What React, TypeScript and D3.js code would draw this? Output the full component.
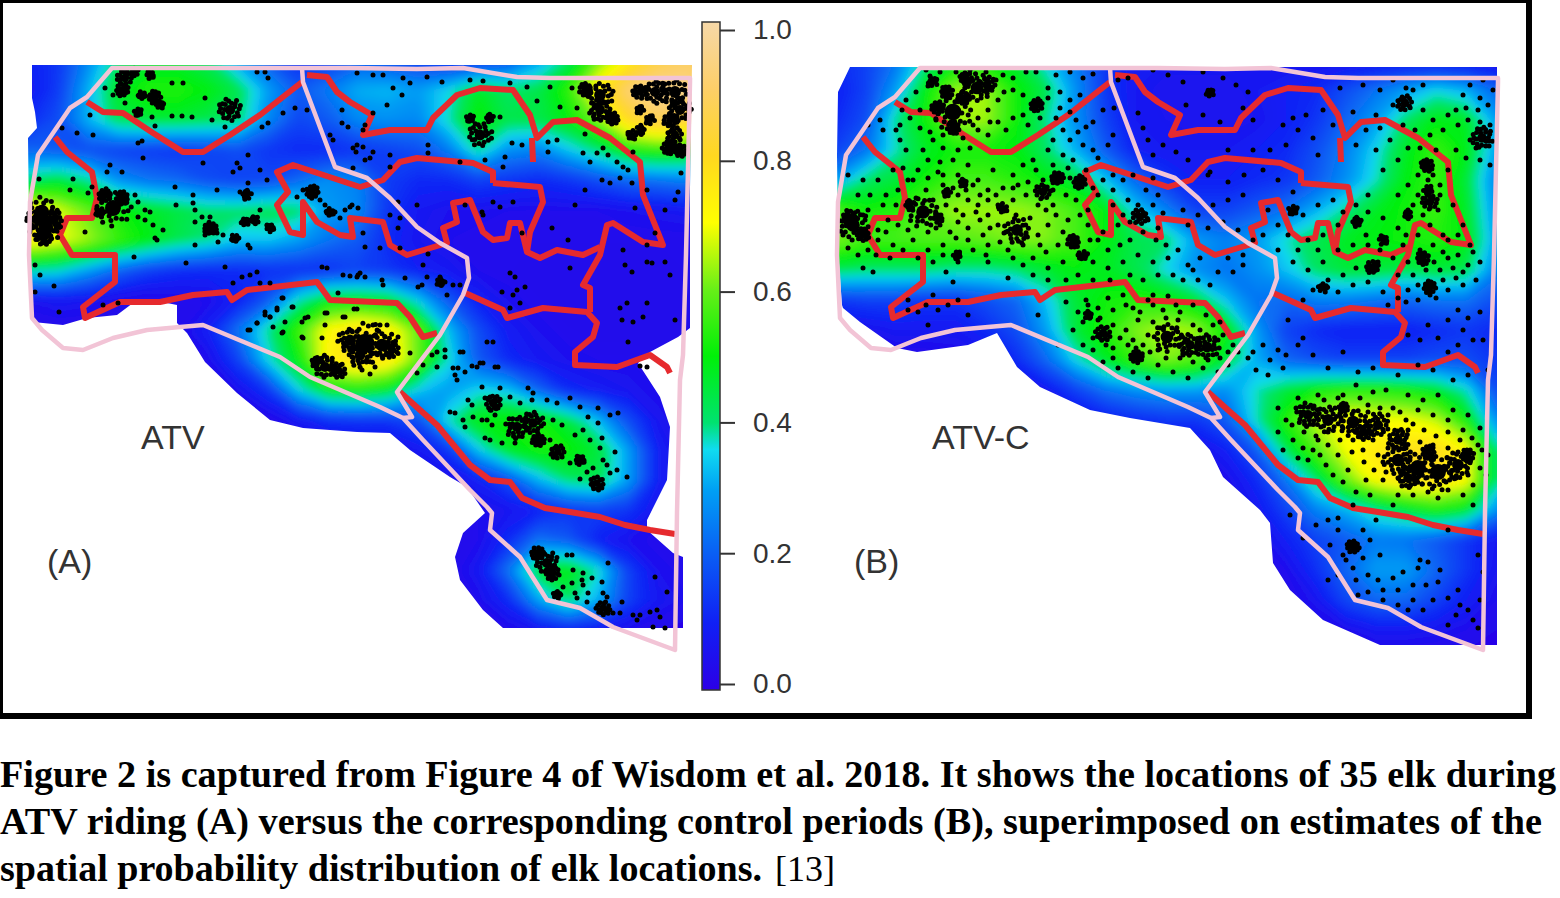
import { useEffect, useRef } from 'react'
import * as d3 from 'd3'

type Pt = [number, number]
type Clump = [number, number, number]

// Map units are the same for both panels: A and B show the same study area.
const gridX = d3.range(23).map((i) => 28 + i * 30)
const gridY = d3.range(21).map((j) => 60 + j * 30)

// Relative probability (percent) at each grid node, row by row.
const densityA = [
  [10,14,27,42,46,46,42,30,20,12,15,20,18,15,12,12,18,30,42,60,74,85,90],
  [8,15,32,48,54,54,50,44,30,20,25,32,33,30,36,48,42,44,55,75,92,98,95],
  [12,18,32,44,46,46,44,42,27,17,20,27,28,27,38,52,44,44,50,62,80,88,85],
  [22,20,18,16,15,14,16,18,14,12,12,14,16,18,25,40,28,26,34,42,52,54,52],
  [42,46,40,28,24,22,18,16,17,22,28,26,15,12,12,16,14,12,14,18,22,24,26],
  [75,68,60,52,48,45,42,42,44,42,30,27,14,8,6,6,5,5,5,5,6,7,8],
  [75,70,64,56,50,44,40,34,34,30,24,20,12,7,5,4,4,4,4,4,4,4,4],
  [40,38,30,22,16,13,12,12,13,13,13,16,14,10,8,5,4,3,3,3,3,3,4],
  [6,8,7,4,3,4,5,10,20,38,50,50,48,35,20,10,6,4,3,3,3,3,3],
  [3,3,3,3,2,4,10,24,40,56,72,78,74,60,34,18,9,6,4,3,3,3,3],
  [3,3,3,2,2,2,5,16,36,50,74,80,76,60,38,20,12,8,6,5,5,4,3],
  [2,2,2,2,2,2,2,6,14,35,50,52,48,35,30,36,34,22,12,9,7,5,3],
  [2,2,2,2,2,2,2,2,3,8,13,14,14,18,38,50,52,52,45,33,18,7,4],
  [2,2,2,2,2,2,2,2,2,2,2,3,4,8,14,34,48,52,52,46,30,10,4],
  [2,2,2,2,2,2,2,2,2,2,2,2,2,3,5,10,18,32,42,44,30,10,4],
  [2,2,2,2,2,2,2,2,2,2,2,2,2,2,3,5,7,10,14,16,14,7,3],
  [2,2,2,2,2,2,2,2,2,2,2,2,2,2,2,5,12,24,20,10,6,4,3],
  [2,2,2,2,2,2,2,2,2,2,2,2,2,2,3,8,24,46,50,38,16,6,4],
  [2,2,2,2,2,2,2,2,2,2,2,2,2,2,2,5,12,30,42,32,16,8,5],
  [2,2,2,2,2,2,2,2,2,2,2,2,2,2,2,2,4,7,10,8,5,3,2],
  [2,2,2,2,2,2,2,2,2,2,2,2,2,2,2,2,2,2,2,2,2,2,2],
]
const densityB = [
  [12,16,24,40,48,50,46,35,25,14,8,8,8,8,7,6,6,6,6,6,5,5,5],
  [10,16,30,50,64,64,52,44,28,14,8,6,6,6,8,10,12,18,24,30,36,32,22],
  [12,18,40,52,64,64,52,40,28,16,8,7,6,6,7,10,14,22,30,42,50,48,30],
  [16,24,38,48,52,52,50,42,32,20,10,8,8,8,10,12,18,26,36,48,56,50,30],
  [30,42,46,52,57,57,54,50,46,34,22,14,10,10,12,14,20,28,38,50,56,46,26],
  [58,52,54,60,64,64,64,62,57,50,35,26,16,16,20,24,32,40,48,52,56,48,28],
  [62,57,57,58,58,60,62,62,57,50,44,42,30,26,30,38,44,48,50,52,54,50,30],
  [44,42,42,42,40,40,42,46,50,48,44,36,28,24,28,34,42,46,46,44,46,44,26],
  [14,16,16,14,14,18,22,34,46,52,54,52,46,34,24,22,26,26,24,22,24,24,18],
  [5,6,8,8,8,12,18,30,46,54,62,66,64,52,30,16,12,10,10,10,12,14,12],
  [3,3,3,3,4,6,12,22,36,48,56,62,58,46,32,22,18,16,16,16,18,18,14],
  [2,2,2,2,2,2,4,8,16,24,28,30,30,28,38,46,52,54,54,52,48,38,18],
  [2,2,2,2,2,2,2,3,5,9,12,14,14,20,38,54,66,72,70,70,66,52,28],
  [2,2,2,2,2,2,2,2,2,3,4,4,5,10,20,44,58,70,76,78,80,72,42],
  [2,2,2,2,2,2,2,2,2,2,2,2,2,5,12,24,42,60,72,78,78,72,42],
  [2,2,2,2,2,2,2,2,2,2,2,2,2,3,8,16,26,32,40,46,52,48,28],
  [2,2,2,2,2,2,2,2,2,2,2,2,2,2,4,10,16,20,25,24,20,14,8],
  [2,2,2,2,2,2,2,2,2,2,2,2,2,2,2,5,13,22,30,30,22,14,7],
  [2,2,2,2,2,2,2,2,2,2,2,2,2,2,2,3,7,17,22,22,16,10,5],
  [2,2,2,2,2,2,2,2,2,2,2,2,2,2,2,2,3,5,8,8,7,5,3],
  [2,2,2,2,2,2,2,2,2,2,2,2,2,2,2,2,2,2,2,2,2,2,2],
]

// Where each probability surface has data.
const extentA: Pt[] = [[32,65],[692,65],[690,188],[690,328],[678,337],[650,352],[638,363],[660,397],[670,427],[667,480],[647,520],[647,530],[673,553],[683,557],[683,628],[503,628],[483,610],[460,580],[455,557],[463,533],[485,513],[467,487],[450,477],[410,450],[390,433],[357,432],[303,428],[270,420],[237,393],[205,362],[187,333],[177,323],[177,305],[167,303],[133,303],[117,315],[87,318],[63,325],[33,322],[30,305],[28,138],[37,128],[35,112],[32,98]]
const extentB: Pt[] = [[42,67],[689,67],[689,645],[572,645],[515,620],[482,590],[465,563],[462,523],[452,510],[415,477],[402,450],[382,428],[322,418],[282,410],[232,387],[209,367],[189,333],[160,345],[109,352],[89,348],[52,322],[35,308],[34,305],[30,250],[29,155],[30,92]]

// Study area boundaries, same in both panels.
const pinkOuter: Pt[] = [[120,68],[112,68],[87,97],[70,108],[53,133],[38,155],[30,202],[29,255],[32,318],[42,330],[63,348],[83,350],[113,338],[147,330],[180,327],[203,325],[280,357],[310,377],[380,407],[403,418],[423,440],[470,490],[487,507],[492,513],[490,530],[520,557],[547,600],[580,608],[613,627],[675,650],[677,513],[680,380],[683,355],[686,255],[690,82],[690,78],[550,78],[517,77],[463,68],[417,69],[350,68],[302,68],[120,68]]
const pinkInner: Pt[] = [[302,68],[303,82],[335,167],[367,178],[390,198],[417,227],[440,243],[467,258],[469,278],[463,295],[440,335],[397,392],[412,417],[403,418]]
const redLines: Pt[][] = [
  [[87,102],[103,112],[123,113],[153,133],[183,152],[203,152],[230,135],[260,115],[302,82]],
  [[55,137],[67,152],[92,172],[97,198],[92,218],[67,218],[60,235],[72,255],[115,255],[115,282],[83,307],[85,318],[120,302],[160,302],[193,295],[227,292],[232,300],[247,290],[317,282],[330,300],[397,303],[410,317],[423,337],[437,333]],
  [[463,292],[503,310],[507,318],[543,308],[587,312],[597,323],[593,337],[575,352],[575,365],[617,367],[650,355],[667,367],[670,373]],
  [[590,312],[590,288],[583,285],[600,255],[607,225],[613,223],[643,242],[663,245],[643,195],[640,162],[610,138],[577,120],[553,122],[537,138],[530,115],[513,90],[480,88],[457,95],[433,118],[427,130],[390,130],[363,135],[372,115],[350,102],[337,92],[327,77],[307,75]],
  [[532,138],[533,162]],
  [[493,183],[493,172],[473,163],[417,158],[400,162],[383,180],[360,187],[293,165],[277,172],[288,192],[277,205],[290,232],[303,235],[303,202],[317,222],[340,235],[353,237],[350,218],[383,222],[390,245],[407,255],[447,243],[443,228],[457,222],[453,203],[470,200],[483,232],[493,240],[507,238],[510,223],[520,223],[527,252],[540,258],[557,250],[583,255],[600,247]],
  [[493,183],[540,187],[543,202],[530,232],[527,252]],
  [[400,392],[420,410],[437,425],[470,465],[490,480],[510,482],[522,498],[545,508],[570,512],[600,517],[625,525],[650,530],[675,534]],
]

// Elk locations; clumps are places where so many fixes overlap that they read as one blob.
const fixesA: Pt[] = [[105,88],[183,83],[172,83],[205,98],[212,120],[172,116],[182,116],[192,117],[152,117],[125,103],[113,95],[155,126],[225,127],[262,127],[268,123],[283,113],[295,108],[307,110],[342,110],[268,78],[257,72],[265,72],[90,115],[62,128],[77,133],[93,135],[138,143],[142,141],[143,158],[110,165],[107,172],[122,172],[73,179],[39,179],[70,190],[88,193],[92,187],[175,187],[193,195],[217,190],[203,163],[248,155],[237,163],[233,172],[240,168],[260,170],[267,180],[248,183],[240,192],[135,195],[138,202],[145,210],[150,212],[138,217],[145,220],[153,225],[163,230],[157,240],[155,238],[85,232],[176,205],[193,203],[195,210],[195,222],[202,217],[210,217],[212,228],[205,235],[217,233],[223,235],[218,242],[195,245],[248,245],[250,248],[247,222],[253,218],[260,210],[258,222],[267,225],[272,228],[134,257],[186,263],[225,267],[322,267],[327,268],[242,277],[250,275],[257,272],[233,283],[260,283],[270,283],[343,275],[350,276],[358,275],[35,265],[40,275],[54,286],[35,292],[59,312],[103,305],[118,303],[265,312],[270,317],[277,310],[283,298],[293,307],[250,330],[257,323],[285,322],[283,332],[302,322],[308,317],[327,313],[345,317],[325,325],[303,338],[357,309],[338,293],[313,195],[320,200],[325,205],[335,212],[340,218],[345,210],[350,207],[303,190],[297,197],[353,148],[356,152],[330,135],[333,140],[342,123],[348,127],[353,168],[352,205],[358,208],[357,73],[373,75],[383,75],[403,78],[410,83],[427,77],[393,88],[402,95],[387,105],[442,82],[470,80],[483,81],[510,83],[527,87],[550,87],[537,101],[560,107],[572,88],[577,108],[373,113],[365,125],[363,130],[357,145],[363,147],[373,152],[370,158],[390,155],[365,160],[390,167],[428,145],[428,153],[500,117],[512,143],[522,145],[505,157],[503,167],[485,160],[460,162],[548,152],[557,140],[548,142],[583,153],[590,162],[585,134],[602,180],[610,183],[620,178],[597,153],[603,148],[608,155],[617,162],[623,167],[628,170],[632,183],[633,152],[647,190],[665,210],[635,208],[675,200],[678,192],[681,173],[585,190],[575,205],[552,228],[568,240],[522,233],[513,202],[500,207],[493,202],[483,215],[482,212],[465,205],[417,205],[398,202],[400,218],[398,228],[390,215],[363,233],[365,247],[380,248],[400,248],[428,254],[423,265],[360,273],[365,277],[357,277],[382,280],[383,285],[405,278],[418,287],[422,285],[427,277],[440,277],[445,282],[453,285],[460,285],[447,295],[510,273],[515,277],[525,287],[517,290],[513,295],[520,303],[510,308],[502,292],[570,268],[625,265],[632,272],[647,262],[652,263],[665,262],[670,275],[623,250],[647,245],[655,233],[675,320],[620,308],[627,303],[622,320],[633,322],[647,303],[643,317],[628,342],[493,342],[463,352],[483,363],[498,367],[477,367],[458,368],[647,367],[248,330],[257,323],[265,315],[270,317],[277,308],[282,298],[292,307],[273,327],[282,333],[302,337],[305,318],[325,313],[343,317],[354,309],[322,338],[410,353],[398,337],[387,325],[380,325],[373,325],[375,367],[370,374],[362,370],[423,365],[437,367],[437,352],[445,350],[445,357],[432,355],[417,373],[453,368],[457,380],[455,375],[465,372],[472,366],[480,363],[495,367],[460,352],[487,342],[450,412],[455,413],[468,400],[472,405],[482,387],[500,388],[485,398],[490,397],[495,402],[498,408],[490,410],[495,415],[487,420],[482,420],[463,420],[465,427],[473,417],[492,425],[485,438],[490,440],[502,443],[515,443],[510,397],[528,388],[533,393],[532,400],[520,403],[547,400],[557,403],[570,398],[580,407],[598,408],[610,415],[618,413],[588,417],[598,423],[553,420],[562,425],[575,435],[583,430],[590,440],[602,438],[600,448],[615,452],[603,460],[607,465],[617,470],[610,473],[627,477],[580,479],[587,472],[593,468],[570,463],[577,463],[550,440],[557,453],[567,555],[572,555],[608,563],[573,570],[583,573],[582,580],[572,583],[563,587],[592,578],[583,585],[575,593],[588,593],[577,598],[587,602],[602,582],[603,593],[607,597],[622,602],[655,577],[633,615],[640,615],[637,620],[650,612],[657,610],[660,617],[653,627],[667,592],[665,628],[620,613],[613,613],[640,366]]
const clumpsA: Clump[] = [[42,212,18],[46,228,18],[38,220,10],[52,220,8],[44,238,6],[113,208,22],[105,195,4],[122,198,4],[100,212,3],[125,78,6],[122,90,4],[155,97,4],[160,105,2],[138,112,2],[135,72,2],[150,75,2],[142,95,2],[230,110,9],[600,95,12],[600,110,8],[585,90,4],[612,118,4],[640,92,5],[655,92,9],[675,92,12],[680,110,9],[670,120,5],[675,135,6],[668,148,4],[680,150,4],[650,120,3],[640,130,3],[632,135,3],[480,135,10],[470,118,2],[490,118,2],[365,343,30],[350,340,10],[382,345,14],[360,355,10],[392,350,6],[325,367,9],[338,370,6],[316,362,3],[493,403,6],[517,427,9],[533,423,8],[538,440,4],[558,452,5],[580,460,3],[597,483,5],[547,563,9],[537,553,4],[553,573,5],[557,595,2],[603,608,5],[247,195,3],[312,192,4],[330,212,2],[245,222,2],[210,228,4],[255,220,2],[270,228,2],[235,238,2],[640,110,2],[440,282,2]]
const fixesB: Pt[] = [[118,70],[122,76],[108,92],[98,100],[112,110],[94,110],[102,118],[195,75],[205,78],[218,72],[228,72],[248,75],[262,72],[275,78],[285,74],[240,88],[252,92],[262,100],[272,95],[205,90],[215,95],[190,100],[180,110],[170,118],[190,122],[205,118],[215,115],[198,130],[180,135],[165,125],[252,108],[248,118],[262,112],[268,120],[278,127],[285,122],[295,110],[306,108],[330,113],[335,128],[305,135],[60,125],[75,130],[92,125],[72,120],[92,140],[88,130],[98,150],[115,150],[125,140],[135,148],[150,150],[145,160],[132,162],[120,160],[110,170],[105,180],[120,178],[130,172],[85,170],[95,168],[160,165],[150,175],[170,180],[185,170],[205,175],[215,165],[225,160],[240,150],[255,155],[265,160],[245,165],[260,168],[275,145],[262,140],[270,132],[255,130],[245,140],[285,150],[278,170],[290,158],[300,145],[228,170],[235,180],[210,185],[195,188],[180,190],[165,185],[150,195],[135,185],[125,200],[138,205],[148,210],[160,200],[170,205],[180,200],[190,205],[205,200],[218,195],[230,205],[245,205],[258,195],[268,200],[280,210],[290,195],[295,180],[305,175],[315,180],[325,175],[338,190],[350,195],[305,190],[320,200],[315,215],[345,205],[355,213],[40,175],[55,180],[70,180],[62,195],[78,195],[90,190],[50,195],[75,205],[88,205],[100,180],[60,210],[80,220],[90,225],[100,230],[120,232],[132,225],[150,222],[160,228],[172,220],[180,215],[190,225],[175,235],[160,240],[148,238],[135,245],[120,250],[105,240],[95,250],[85,245],[70,240],[60,250],[50,255],[40,248],[68,255],[82,258],[110,258],[125,262],[135,255],[150,262],[180,245],[200,250],[215,245],[230,235],[240,225],[248,215],[260,220],[272,215],[280,225],[290,240],[300,250],[312,245],[322,240],[335,232],[348,240],[358,245],[250,245],[238,252],[225,258],[215,265],[180,262],[240,268],[255,262],[270,255],[285,262],[300,268],[315,262],[330,255],[345,262],[360,258],[370,250],[380,265],[365,275],[350,275],[335,280],[322,275],[302,280],[285,280],[270,275],[258,280],[240,280],[225,275],[200,278],[375,280],[390,280],[402,285],[385,270],[410,272],[425,272],[435,265],[420,258],[435,255],[392,258],[55,268],[65,272],[138,272],[145,282],[100,300],[100,310],[110,312],[118,305],[125,295],[130,310],[140,305],[150,300],[160,315],[120,325],[230,315],[258,302],[270,312],[278,300],[290,308],[300,298],[315,295],[325,308],[340,300],[355,310],[368,305],[265,330],[275,345],[285,350],[290,320],[305,325],[318,330],[330,320],[345,322],[320,345],[305,348],[295,362],[310,368],[325,372],[340,378],[350,365],[365,372],[380,378],[395,368],[410,372],[420,365],[430,352],[440,358],[425,345],[415,335],[405,325],[385,325],[370,320],[445,352],[455,345],[462,360],[470,350],[478,355],[460,375],[448,370],[375,355],[350,350],[335,345],[250,345],[345,295],[360,296],[310,80],[320,78],[345,70],[360,75],[375,82],[395,72],[415,78],[428,85],[440,92],[378,105],[395,115],[412,122],[435,108],[445,120],[355,145],[368,152],[340,140],[345,155],[380,160],[402,172],[420,150],[445,150],[462,150],[475,125],[485,118],[498,115],[490,130],[505,138],[515,110],[525,125],[510,155],[478,145],[532,88],[555,85],[572,90],[568,115],[545,112],[400,175],[420,182],[436,175],[455,170],[470,180],[485,192],[435,195],[420,200],[405,205],[460,210],[470,225],[480,235],[495,215],[510,205],[525,200],[535,212],[530,225],[515,235],[500,240],[510,250],[490,250],[375,210],[390,215],[380,225],[400,228],[415,222],[430,230],[445,240],[455,235],[470,250],[485,262],[500,270],[515,262],[530,250],[545,245],[558,235],[548,205],[560,212],[575,218],[590,228],[552,222],[560,195],[575,170],[590,160],[600,148],[582,140],[568,150],[548,145],[558,130],[572,128],[595,125],[607,130],[585,105],[605,90],[615,85],[598,88],[585,80],[615,110],[625,120],[640,115],[650,125],[660,120],[670,110],[680,105],[662,85],[675,80],[685,90],[655,95],[648,110],[672,122],[682,125],[662,140],[648,150],[658,158],[672,160],[682,165],[640,170],[632,185],[620,180],[610,175],[600,185],[590,195],[610,195],[630,210],[615,215],[600,210],[595,245],[610,235],[622,225],[635,235],[650,235],[662,245],[650,255],[635,252],[625,245],[600,262],[590,275],[605,275],[618,270],[632,270],[645,268],[660,265],[672,262],[668,280],[655,285],[640,290],[628,298],[610,300],[600,290],[590,298],[570,262],[548,268],[535,275],[520,280],[505,290],[495,300],[530,292],[545,285],[560,282],[575,292],[580,305],[650,310],[660,318],[672,312],[640,320],[620,325],[630,338],[612,340],[600,335],[650,345],[665,340],[675,340],[655,330],[640,352],[680,370],[660,375],[645,380],[625,370],[610,365],[480,320],[495,338],[490,345],[505,355],[520,368],[475,368],[535,352],[550,372],[565,368],[590,375],[535,395],[548,385],[565,392],[578,390],[600,395],[615,400],[630,395],[645,410],[660,415],[672,428],[655,430],[640,420],[625,415],[610,410],[598,420],[585,408],[560,405],[530,398],[510,395],[490,398],[470,408],[478,420],[470,432],[485,440],[495,448],[475,450],[490,458],[505,450],[520,445],[530,455],[518,465],[540,470],[555,450],[570,455],[545,440],[558,480],[575,480],[590,495],[605,495],[620,492],[640,490],[655,495],[665,485],[678,475],[680,455],[670,445],[585,505],[630,498],[665,505],[482,515],[508,525],[520,520],[530,518],[545,505],[495,538],[530,530],[522,545],[535,555],[555,530],[562,540],[572,555],[555,558],[545,568],[538,560],[530,575],[520,580],[548,580],[560,575],[570,580],[585,578],[595,572],[610,568],[620,562],[632,570],[630,582],[618,585],[605,585],[590,590],[575,590],[560,592],[550,595],[575,600],[590,605],[605,600],[615,610],[625,600],[640,598],[650,590],[640,625],[648,615],[660,610],[665,620],[652,605],[672,600],[675,572],[670,555],[600,610],[612,560],[568,520],[640,530],[670,628]]
// Second pass over the densest parts of panel B.
const fixesBDense: Pt[] = [[488,408],[497,403],[506,406],[516,400],[527,408],[538,404],[552,398],[560,412],[572,408],[580,415],[592,412],[605,424],[616,430],[628,436],[640,432],[652,440],[664,438],[674,450],[484,425],[496,432],[508,436],[520,432],[532,440],[544,452],[556,462],[566,470],[578,472],[590,478],[602,486],[614,484],[626,486],[638,482],[648,478],[660,475],[672,468],[500,460],[512,455],[525,475],[535,482],[548,492],[562,495],[575,462],[580,448],[598,448],[612,442],[625,445],[640,448],[650,452],[600,430],[565,440],[535,428],[510,440],[280,305],[292,318],[305,310],[318,305],[332,312],[345,305],[358,318],[372,312],[385,305],[398,315],[412,322],[275,322],[285,338],[298,345],[312,338],[325,340],[340,335],[352,328],[368,330],[392,330],[410,340],[420,352],[372,358],[385,362],[400,360],[412,358],[342,352],[358,358],[328,348],[305,358],[120,86],[132,72],[148,72],[162,70],[178,72],[188,80],[196,92],[128,120],[112,128],[122,132],[135,135],[155,138],[162,148],[170,130],[182,122],[240,98],[232,118],[220,125],[135,175],[145,188],[158,190],[172,195],[188,195],[205,188],[220,182],[232,192],[245,190],[262,178],[285,188],[108,198],[118,190],[128,228],[142,232],[155,215],[168,212],[182,228],[198,232],[208,215],[222,218],[238,210],[255,232],[268,238],[282,240],[165,250],[178,255],[192,242],[205,258],[218,235],[232,245],[295,232],[310,225],[322,222],[340,220],[350,228],[305,205],[345,178],[330,205],[70,230],[55,215],[35,235],[78,232],[560,245],[572,250],[585,258],[598,235],[612,250],[626,262],[640,258],[655,272],[665,252],[610,285],[622,295],[635,280],[648,278],[598,302],[612,148],[622,135],[635,130],[628,150],[618,190],[605,205],[632,195],[645,205],[625,175],[655,225],[640,240],[672,98],[658,108],[668,148]]
const clumpsB: Clump[] = [[145,112,24],[169,88,14],[179,85,7],[139,92,4],[125,82,3],[155,98,4],[229,105,4],[145,128,4],[158,78,4],[130,108,4],[45,225,16],[42,218,7],[55,235,4],[115,212,16],[102,205,3],[130,218,3],[209,230,12],[235,192,6],[249,178,4],[272,182,4],[265,242,4],[275,255,3],[139,193,2],[155,183,2],[195,208,3],[332,217,6],[149,255,2],[597,103,6],[674,138,8],[619,165,4],[622,202,6],[564,267,4],[622,287,4],[515,288,3],[485,210,3],[549,222,3],[575,240,3],[615,258,4],[402,93,2],[359,337,14],[382,345,8],[399,347,10],[295,333,6],[329,357,4],[280,315,2],[500,415,9],[520,420,12],[545,422,14],[570,425,9],[590,440,8],[590,460,14],[610,468,22],[630,472,22],[650,465,12],[600,478,8],[555,432,6],[535,408,3],[620,452,4],[660,455,4],[545,547,4],[620,190,3],[600,215,2]]

// Loose fixes around each clump, in clump radii, so a blob has a broken edge.
const clumpFringe: Pt[] = [[0.9,0.1],[-0.8,0.5],[0.2,-1.05],[-0.3,1.1],[1.25,-0.55],[-1.2,-0.5],[0.75,0.95],[-0.9,1.0],[0.5,-1.35],[-0.7,-1.15],[1.55,0.3],[-1.55,0.15],[0.15,1.5],[1.2,1.1],[-1.35,-1.05],[1.1,-1.25],[-1.75,0.7],[1.8,-0.2],[-0.25,-1.75],[0.6,1.8],[-1.15,1.55],[1.7,0.95]]

// Colour bar stops.
const colorStops = [0, 0.1, 0.2, 0.3, 0.36, 0.4, 0.5, 0.6, 0.7, 0.8, 0.9, 1]
const colorValues = ['#2c00e6', '#1020f5', '#0a5cf4', '#00a0f4', '#10dcf0', '#00e270', '#00f008', '#68f018', '#ffff00', '#ffd820', '#fdcf68', '#f6d8a8']
const barTicks = [0, 0.2, 0.4, 0.6, 0.8, 1]

const captionLines = [
  'Figure 2 is captured from Figure 4 of Wisdom et al. 2018. It shows the locations of 35 elk during',
  'ATV riding (A) versus the corresponding control periods (B), superimposed on estimates of the',
  'spatial probability distribution of elk locations.',
]
const captionWidths = [1556, 1542, 762]

const color = d3.scaleLinear<string>().domain(colorStops).range(colorValues).clamp(true)
const mapDomainX = [28, 690]
const mapY = d3.scaleLinear().domain([60, 650]).range([60, 650])
const clumpR = d3.scaleSqrt().domain([0, 64]).range([0, 16])
const levels = d3.range(0, 1, 0.01)
const fixR = 2.5

const Panel = ({ id, left, density, extent, fixes, clumps, tag, tagX, name, nameX }: any) => {
  const x = d3.scaleLinear().domain(mapDomainX).range([left, left + 662])
  const line = d3.line<Pt>().x((d) => x(d[0])).y((d) => mapY(d[1]))
  const values = (density as number[][]).flat().map((v) => v / 100)
  const layers = d3.contours().size([gridX.length, gridY.length]).thresholds(levels)(values)
  const project = d3.geoTransform({
    point(px, py) {
      // contour coordinates are cell based, node i sits at i + 0.5
      this.stream.point(x(gridX[0] + (px - 0.5) * 30), mapY(gridY[0] + (py - 0.5) * 30))
    },
  })
  const path = d3.geoPath(project)

  return (
    <g>
      <clipPath id={`extent-${id}`}>
        <path d={line(extent) + 'Z'} />
      </clipPath>
      <g clipPath={`url(#extent-${id})`}>
        <g filter="url(#soft)">
          {layers.map((c, i) => (
            <path key={i} d={path(c) ?? ''} fill={color(c.value)} />
          ))}
        </g>
      </g>
      <g filter="url(#crisp)">
        {redLines.map((r, i) => (
          <path key={i} d={line(r) ?? ''} fill="none" stroke="#e62a2e" strokeWidth={6} strokeLinejoin="round" />
        ))}
        {(clumps as Clump[]).map((d, i) => {
          const r = clumpR(d[2])
          const turn = i * 2.4
          const shown = d[2] < 4 ? 8 : d[2] < 8 ? 14 : clumpFringe.length
          return (
            <g key={i}>
              <circle cx={x(d[0])} cy={mapY(d[1])} r={r * 0.85} fill="#000" />
              {clumpFringe.slice(0, shown).map((f, k) => (
                <circle
                  key={k}
                  cx={x(d[0]) + r * (f[0] * Math.cos(turn) - f[1] * Math.sin(turn))}
                  cy={mapY(d[1]) + r * (f[0] * Math.sin(turn) + f[1] * Math.cos(turn))}
                  r={fixR}
                  fill="#000"
                />
              ))}
            </g>
          )
        })}
        {(fixes as Pt[]).map((d, i) => (
          <circle key={i} cx={x(d[0])} cy={mapY(d[1])} r={fixR} fill="#000" />
        ))}
        <path d={line(pinkOuter) ?? ''} fill="none" stroke="#f2c4d6" strokeWidth={4.5} strokeLinejoin="round" />
        <path d={line(pinkInner) ?? ''} fill="none" stroke="#f2c4d6" strokeWidth={4.5} strokeLinejoin="round" />
      </g>
      <text x={nameX} y={449} fontFamily="Liberation Sans" fontSize={34} fill="#333">{name}</text>
      <text x={tagX} y={573} fontFamily="Liberation Sans" fontSize={34} fill="#333">{tag}</text>
    </g>
  )
}

const App = () => {
  const axisRef = useRef<SVGGElement>(null)
  const barY = d3.scaleLinear().domain([0, 1]).range([684, 30])

  useEffect(() => {
    const g = d3.select(axisRef.current)
    g.selectAll('*').remove()
    g.call(d3.axisRight(barY).tickValues(barTicks).tickSize(15).tickPadding(18).tickFormat(d3.format('.1f')) as any)
    g.select('.domain').remove()
    g.selectAll('line').attr('stroke', '#333').attr('stroke-width', 2)
    g.selectAll('text').attr('font-family', 'Liberation Sans').attr('font-size', 28).attr('fill', '#333')
  }, [])

  return (
    <svg width={1560} height={898} viewBox="0 0 1560 898" style={{ position: 'absolute', left: 0, top: 0, background: '#fff' }}>
      <defs>
        <filter id="soft" x="-5%" y="-5%" width="110%" height="110%"><feGaussianBlur stdDeviation={5} /></filter>
        <filter id="crisp" x="-2%" y="-2%" width="104%" height="104%"><feGaussianBlur stdDeviation={0.5} /></filter>
        <linearGradient id="bar" x1="0" y1="1" x2="0" y2="0">
          {colorStops.map((s, i) => (
            <stop key={i} offset={s} stopColor={colorValues[i]} />
          ))}
        </linearGradient>
      </defs>
      <rect x={0} y={0} width={1529} height={716} fill="#fff" stroke="#000" strokeWidth={6} />
      <Panel id="a" left={28} density={densityA} extent={extentA} fixes={fixesA} clumps={clumpsA} tag="(A)" tagX={47} name="ATV" nameX={141} />
      <Panel id="b" left={836} density={densityB} extent={extentB} fixes={[...fixesB, ...fixesBDense]} clumps={clumpsB} tag="(B)" tagX={854} name="ATV-C" nameX={932} />
      <rect x={702} y={22} width={18} height={668} fill="url(#bar)" stroke="#333" strokeWidth={1.5} />
      <g ref={axisRef} transform="translate(720,0)" />
      <g fontFamily="Liberation Serif" fontWeight="bold" fontSize={38} fill="#000">
        {captionLines.map((t, i) => (
          <text key={i} x={0} y={787 + i * 47} textLength={captionWidths[i]} lengthAdjust="spacingAndGlyphs">{t}</text>
        ))}
        <text x={775} y={881} fontWeight="normal" fontSize={36}>[13]</text>
      </g>
    </svg>
  )
}

export default App
